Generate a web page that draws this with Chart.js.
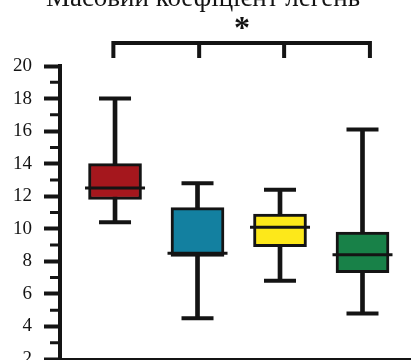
<!DOCTYPE html>
<html>
<head>
<meta charset="utf-8">
<meta name="viewport" content="width=device-width, initial-scale=1">
<script src="https://cdn.jsdelivr.net/npm/chart.js@4.4.1/dist/chart.umd.min.js"></script>
<style>
  html, body { margin: 0; padding: 0; background: #fff; }
  canvas { display: block; }
</style>
</head>
<body>
<canvas id="chart" width="411" height="360"></canvas>
<script>
// Масовий коефіцієнт — 4 групи
var groups = ['Група 1', 'Група 2', 'Група 3', 'Група 4'];
var mins    = [10.4, 4.5, 6.8, 4.8];
var q1s     = [11.8, 8.3, 8.9, 7.3];
var medians = [12.5, 8.5, 10.1, 8.4];
var q3s     = [14.0, 11.3, 10.9, 9.8];
var maxs    = [18.0, 12.8, 12.4, 16.1];
var colors  = ['#a5171d', '#1380a0', '#fde81a', '#188148'];
var yTicks  = [2, 4, 6, 8, 10, 12, 14, 16, 18, 20];

var ink = '#141414';
var serif = "'Liberation Serif', serif";

// підпис зверху, дужка із зірочкою, дрібні поділки осі
var extras = {
  id: 'extras',
  afterDraw: function(chart) {
    var ctx = chart.ctx;
    var xs = chart.scales.x, ys = chart.scales.y;
    ctx.save();
    // заголовок (обрізаний зверху, як на оригіналі)
    ctx.fillStyle = ink;
    ctx.font = '27px ' + serif;
    ctx.textAlign = 'center';
    ctx.textBaseline = 'alphabetic';
    ctx.fillText('Масовий коефіцієнт легень', 203, 6);

    // дужка значущості
    var bx = [0.98, 2.02, 3.05, 4.09].map(function(v) { return xs.getPixelForValue(v); });
    ctx.strokeStyle = ink;
    ctx.lineWidth = 4;
    ctx.lineCap = 'butt';
    ctx.beginPath();
    ctx.moveTo(bx[0] - 2, 43);
    ctx.lineTo(bx[3] + 2, 43);
    bx.forEach(function(x) {
      ctx.moveTo(x, 41);
      ctx.lineTo(x, 58);
    });
    ctx.stroke();
    ctx.font = 'bold 32px ' + serif;
    ctx.textBaseline = 'middle';
    ctx.fillText('*', 242, 30);

    // дрібні поділки
    ctx.lineWidth = 3;
    ctx.beginPath();
    for (var v = 3; v < 20; v += 2) {
      var y = ys.getPixelForValue(v);
      ctx.moveTo(chart.chartArea.left - 10, y);
      ctx.lineTo(chart.chartArea.left, y);
    }
    ctx.stroke();
    ctx.restore();
  }
};

var pts = function(arr) {
  return arr.map(function(v, i) { return { x: i + 1, y: v }; });
};

new Chart(document.getElementById('chart'), {
  type: 'bar',
  data: {
    datasets: [
      {
        label: 'whiskers',
        data: groups.map(function(g, i) { return { x: i + 1, y: [mins[i], maxs[i]] }; }),
        backgroundColor: ink,
        barThickness: 4,
        grouped: false,
        order: 4
      },
      {
        label: 'boxes',
        data: groups.map(function(g, i) { return { x: i + 1, y: [q1s[i], q3s[i]] }; }),
        backgroundColor: colors,
        borderColor: ink,
        borderWidth: 3,
        borderSkipped: false,
        barThickness: 53,
        grouped: false,
        order: 3
      },
      {
        type: 'scatter',
        label: 'medians',
        data: pts(medians),
        pointStyle: 'line',
        pointRadius: 30,
        borderColor: ink,
        borderWidth: 3,
        order: 1
      },
      {
        type: 'scatter',
        label: 'caps',
        data: pts(mins).concat(pts(maxs)),
        pointStyle: 'line',
        pointRadius: 16,
        borderColor: ink,
        borderWidth: 4,
        order: 2
      }
    ]
  },
  options: {
    responsive: false,
    animation: false,
    layout: { autoPadding: false, padding: { top: 66, right: 0, bottom: 1, left: 0 } },
    plugins: {
      legend: { display: false },
      tooltip: { enabled: false }
    },
    scales: {
      x: {
        type: 'linear',
        min: 0.333,
        max: 4.588,
        offset: false,
        ticks: { display: false },
        grid: { display: false, drawTicks: false },
        border: { display: true, color: ink, width: 2 },
        afterFit: function(s) { s.height = 0; }
      },
      y: {
        min: 2,
        max: 20,
        afterBuildTicks: function(s) {
          s.ticks = yTicks.map(function(v) { return { value: v }; });
        },
        ticks: {
          color: ink,
          padding: 12,
          font: { family: serif, size: 19 }
        },
        grid: {
          drawOnChartArea: false,
          tickLength: 16,
          tickWidth: 4,
          tickColor: ink
        },
        border: { color: ink, width: 4 },
        afterFit: function(s) { s.width = 60; s.paddingTop = 0; s.paddingBottom = 0; }
      }
    }
  },
  plugins: [extras]
});
</script>
</body>
</html>
